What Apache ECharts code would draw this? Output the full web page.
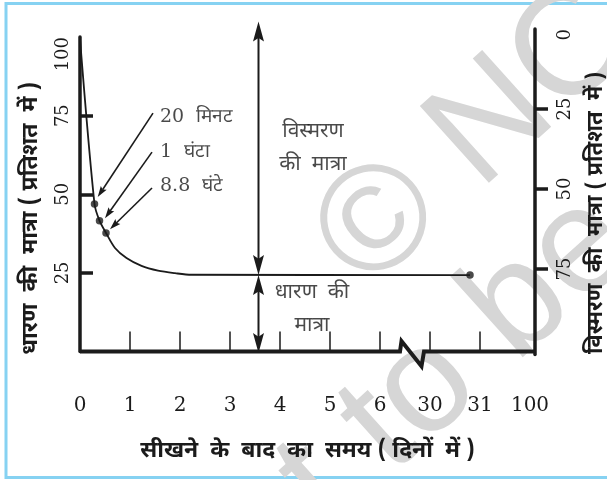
<!DOCTYPE html>
<html>
<head>
<meta charset="utf-8">
<script src="https://cdn.jsdelivr.net/npm/echarts@6/dist/echarts.min.js"></script>
<style>
html, body { margin: 0; padding: 0; background: #fff; }
#chart { width: 607px; height: 480px; }
</style>
</head>
<body>
<div id="chart"></div>
<script>
// time axis: labels sit on positions 0..9, the axis is broken between 6 and 30
var dayLabels = ['0', '1', '2', '3', '4', '5', '6', '30', '31', '100'];
var dayTicks = [1, 2, 3, 4, 5, 6, 7, 8];
var pctTicks = [25, 50, 75];

// retention curve (x = position on the drawn time axis, y = % retained)
var curveX = [0, 0.29, 0.39, 0.52, 0.70, 0.93, 1.23, 1.56, 1.90, 2.23, 7.8];
var retention = [99.4, 46.9, 41.6, 37.7, 32.9, 29.7, 27.2, 25.7, 24.9, 24.4, 24.3];

// marked points: 20 min, 1 h, 8.8 h, last day
var dotX = [0.29, 0.39, 0.52, 7.8];
var dotY = [46.9, 41.6, 37.7, 24.3];

// notes with arrows pointing at the first three points
var noteText = ['20  मिनट', '1  घंटा', '8.8  घंटे'];
var noteX = [1.6, 1.6, 1.6];
var noteY = [74.6, 63.5, 52.6];
var noteFromX = [1.46, 1.44, 1.44];
var noteFromY = [75.8, 63.4, 52.0];
var noteToX = [0.354, 0.50, 0.60];
var noteToY = [49.1, 42.4, 38.9];

// forgotten / retained amount arrows
var amountX = 3.57;
var amountY = [104.9, 24.3, -0.5];
var amountText = ['विस्मरण\nकी  मात्रा', 'धारण  की\nमात्रा'];
var amountTextX = [4.66, 4.64];
var amountTextY = [64.1, 12.9];

// break mark on the time axis
var breakX = [6.4, 6.43, 6.83, 6.88];
var breakY = [0, 3.3, -4.7, 0];

var INK = '#1b1b1b';
var NUM_FONT = 'DejaVu Serif';
var HINDI_FONT = '"Noto Sans Devanagari", "Noto Serif Devanagari", "Lohit Devanagari", FreeSerif, "DejaVu Serif", serif';

var chart = echarts.init(document.getElementById('chart'), null, {renderer: 'canvas'});

var baseline = [[0, 0]];
breakX.forEach(function(x, i) { baseline.push([x, breakY[i]]); });
baseline.push([9.1, 0]);

var noteArrows = noteFromX.map(function(x, i) {
	return [x, noteFromY[i], noteToX[i], noteToY[i]];
});
var amountArrows = [
	[amountX, amountY[1], amountX, amountY[0]],
	[amountX, amountY[1], amountX, amountY[2]]
];

function arrowItem(headLen, headW, lineW, both) {
	return function(params, api) {
		var a = api.coord([api.value(0), api.value(1)]);
		var b = api.coord([api.value(2), api.value(3)]);
		var dx = b[0] - a[0], dy = b[1] - a[1];
		var len = Math.sqrt(dx * dx + dy * dy);
		var ux = dx / len, uy = dy / len;
		function head(tip, vx, vy) {
			var bx = tip[0] - vx * headLen, by = tip[1] - vy * headLen;
			var nx = tip[0] - vx * headLen * 0.82, ny = tip[1] - vy * headLen * 0.82;
			return {
				type: 'polygon',
				shape: {points: [tip, [bx - vy * headW / 2, by + vx * headW / 2], [nx, ny], [bx + vy * headW / 2, by - vx * headW / 2]]},
				style: {fill: INK}
			};
		}
		var s = both ? [a[0] + ux * headLen * 0.8, a[1] + uy * headLen * 0.8] : a;
		var e = [b[0] - ux * headLen * 0.8, b[1] - uy * headLen * 0.8];
		var kids = [{
			type: 'line',
			shape: {x1: s[0], y1: s[1], x2: e[0], y2: e[1]},
			style: {stroke: INK, lineWidth: lineW}
		}, head(b, ux, uy)];
		if (both) kids.push(head(a, -ux, -uy));
		return {type: 'group', children: kids};
	};
}

var deg = Math.PI / 180;

chart.setOption({
	animation: false,
	backgroundColor: '#fff',
	graphic: [{
		type: 'rect',
		z: -10,
		shape: {x: 6, y: 3.5, width: 620, height: 474},
		style: {fill: 'none', stroke: '#86d2f2', lineWidth: 3}
	}, {
		type: 'text',
		z: -5,
		x: 339, y: 262,
		rotation: 42 * deg,
		style: {text: '© NCERT', font: '150px "Liberation Sans"', fill: '#d6d6d6', align: 'left', verticalAlign: 'middle'}
	}, {
		type: 'text',
		z: -5,
		x: 178, y: 612,
		rotation: 42 * deg,
		style: {text: 'not to be republished', font: '150px "Liberation Sans"', fill: '#d6d6d6', align: 'left', verticalAlign: 'middle'}
	}],
	grid: [
		{left: 80, right: 72, top: 37, bottom: 128.5, outerBoundsMode: 'none'},
		{left: 80, right: 72, top: 29, bottom: 125.5, outerBoundsMode: 'none'}
	],
	xAxis: [{
		gridIndex: 0,
		type: 'value',
		min: 0,
		max: 9.1,
		axisLine: {show: false},
		splitLine: {show: false},
		axisTick: {show: true, inside: true, length: 20, customValues: dayTicks, lineStyle: {color: INK, width: 1.5}},
		axisLabel: {
			customValues: [0, 1, 2, 3, 4, 5, 6, 7, 8, 9],
			formatter: function(v) { return dayLabels[Math.round(v)]; },
			margin: 44,
			color: INK,
			fontFamily: NUM_FONT,
			fontSize: 20
		},
		name: 'सीखने  के  बाद  का  समय ( दिनों  में )',
		nameLocation: 'middle',
		nameGap: 90,
		nameTextStyle: {color: INK, fontFamily: HINDI_FONT, fontSize: 23, fontWeight: 'bold'}
	}, {
		gridIndex: 1,
		type: 'value',
		min: 0,
		max: 9.1,
		show: false
	}],
	yAxis: [{
		gridIndex: 0,
		type: 'value',
		min: 0,
		max: 100,
		interval: 25,
		position: 'left',
		axisLine: {show: true, onZero: false, lineStyle: {color: INK, width: 3.5}},
		axisTick: {show: true, inside: true, length: 13, customValues: pctTicks, lineStyle: {color: INK, width: 3.5}},
		axisLabel: {
			customValues: [25, 50, 75, 100],
			rotate: 90,
			margin: 8,
			alignMaxLabel: 'right',
			color: INK,
			fontFamily: NUM_FONT,
			fontSize: 18
		},
		splitLine: {show: false},
		name: 'धारण  की  मात्रा ( प्रतिशत  में )',
		nameLocation: 'middle',
		nameRotate: 90,
		nameGap: 36,
		nameTextStyle: {color: INK, fontFamily: HINDI_FONT, fontSize: 23, fontWeight: 'bold', padding: [0, 48, 0, 0]}
	}, {
		gridIndex: 1,
		type: 'value',
		min: 0,
		max: 101.7,
		interval: 25,
		inverse: true,
		position: 'right',
		axisLine: {show: true, onZero: false, lineStyle: {color: INK, width: 3.5}},
		axisTick: {show: true, inside: false, length: 13, customValues: pctTicks, lineStyle: {color: INK, width: 3.5}},
		axisLabel: {
			customValues: [0, 25, 50, 75],
			rotate: 90,
			margin: 21,
			alignMinLabel: 'right',
			color: INK,
			fontFamily: NUM_FONT,
			fontSize: 18
		},
		splitLine: {show: false},
		name: 'विस्मरण  की  मात्रा ( प्रतिशत  में )',
		nameLocation: 'middle',
		nameRotate: 90,
		nameGap: 52,
		nameTextStyle: {color: INK, fontFamily: HINDI_FONT, fontSize: 22, fontWeight: 'bold', padding: [0, 42, 0, 0]}
	}],
	series: [{
		name: 'time axis',
		type: 'line',
		xAxisIndex: 0, yAxisIndex: 0,
		data: baseline,
		clip: false,
		silent: true,
		showSymbol: false,
		lineStyle: {color: INK, width: 4, join: 'miter'}
	}, {
		name: 'retention',
		type: 'line',
		xAxisIndex: 0, yAxisIndex: 0,
		data: curveX.map(function(x, i) { return [x, retention[i]]; }),
		smooth: 0.3,
		showSymbol: false,
		clip: false,
		lineStyle: {color: INK, width: 1.8}
	}, {
		name: 'points',
		type: 'scatter',
		xAxisIndex: 0, yAxisIndex: 0,
		data: dotX.map(function(x, i) { return [x, dotY[i]]; }),
		symbolSize: 7.5,
		itemStyle: {color: INK}
	}, {
		name: 'note arrows',
		type: 'custom',
		xAxisIndex: 0, yAxisIndex: 0,
		clip: false,
		dimensions: ['x1', 'y1', 'x2', 'y2'],
		encode: {x: [0, 2], y: [1, 3]},
		data: noteArrows,
		renderItem: arrowItem(11, 7, 1.6, false)
	}, {
		name: 'amount arrows',
		type: 'custom',
		xAxisIndex: 0, yAxisIndex: 0,
		clip: false,
		dimensions: ['x1', 'y1', 'x2', 'y2'],
		encode: {x: [0, 2], y: [1, 3]},
		data: amountArrows,
		renderItem: arrowItem(20, 11, 2, true)
	}, {
		name: 'notes',
		type: 'scatter',
		xAxisIndex: 0, yAxisIndex: 0,
		symbolSize: 0,
		silent: true,
		data: noteText.map(function(t, i) { return {name: t, value: [noteX[i], noteY[i]]}; }),
		label: {
			show: true, position: 'right', distance: 0, formatter: '{b}',
			color: INK, fontFamily: NUM_FONT, fontSize: 19
		}
	}, {
		name: 'amounts',
		type: 'scatter',
		xAxisIndex: 0, yAxisIndex: 0,
		symbolSize: 0,
		silent: true,
		data: amountText.map(function(t, i) { return {name: t, value: [amountTextX[i], amountTextY[i]]}; }),
		label: {
			show: true, position: 'inside', formatter: '{b}', align: 'center',
			lineHeight: 33, color: INK, fontFamily: HINDI_FONT, fontSize: 21
		}
	}]
});
</script>
</body>
</html>
